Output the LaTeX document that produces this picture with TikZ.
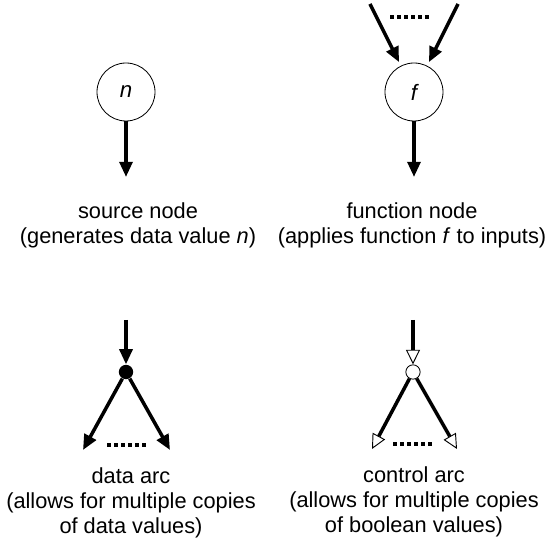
\documentclass[tikz,border=0pt]{standalone}
\usepackage{fontspec}
\setmainfont{Liberation Sans}
\usetikzlibrary{positioning,arrows.meta}

\begin{document}
\begin{tikzpicture}[
  x=0.03cm, y=-0.03cm,
  vtx/.style={draw, circle, line width=0.7pt, minimum size=1.74cm, inner sep=0pt,
              font=\fontsize{19}{21}\selectfont\itshape},
  lbl/.style={align=center, inner sep=0pt, font=\fontsize{18.6}{21.5}\selectfont},
  arr/.style={line width=3pt, -{Triangle[length=13pt, width=11pt]}},
  oarr/.style={line width=3pt, -{Triangle[open, fill=white, length=12.5pt, width=12pt, line width=0.8pt]}},
  dots/.style={line width=3.4pt, dash pattern=on 3.4pt off 2.6pt},
  fork/.style={circle, inner sep=0pt, minimum size=0.43cm, line width=0.7pt}
]
\useasboundingbox (0,0) rectangle (546,544);

% source node
\node[vtx] (src) at (126,92) {n};
\coordinate (srcout) at (126,177);
\draw[arr] (src) -- (srcout);
\node[lbl] (srclbl) at (138,225) {source node\\(generates data value \textit{n})};

% function node
\node[vtx] (fn) at (414,92) {f};
\coordinate (fnin1) at (370,4);
\coordinate (fnin2) at (458,4);
\coordinate (fnout) at (414,177);
\coordinate (fndl) at (390,17);
\coordinate (fndr) at (430,17);
\draw[arr, shorten >=3.4pt] (fnin1) -- (fn);
\draw[arr, shorten >=3.4pt] (fnin2) -- (fn);
\draw[dots] (fndl) -- (fndr);
\draw[arr] (fn) -- (fnout);
\node[lbl] (fnlbl) at (412,225) {function node\\(applies function \textit{f} to inputs)};

% data arc
\coordinate (datain) at (126,320);
\node[fork, fill=black] (dfork) at (126,372) {};
\coordinate (dout1) at (83,450);
\coordinate (dout2) at (170,450);
\coordinate (ddl) at (107,445);
\coordinate (ddr) at (147,445);
\draw[arr] (datain) -- (dfork);
\draw[arr] (dfork) -- (dout1);
\draw[arr] (dfork) -- (dout2);
\draw[dots] (ddl) -- (ddr);
\node[lbl] (dlbl) at (131,503) {data arc\\(allows for multiple copies\\of data values)};

% control arc
\coordinate (ctrlin) at (413,320);
\node[fork, draw, fill=white] (cfork) at (413,372) {};
\coordinate (cout1) at (372,449);
\coordinate (cout2) at (457,449);
\coordinate (cdl) at (393,444);
\coordinate (cdr) at (433,444);
\draw[oarr] (ctrlin) -- (cfork);
\draw[oarr] (cfork) -- (cout1);
\draw[oarr] (cfork) -- (cout2);
\draw[dots] (cdl) -- (cdr);
\node[lbl] (clbl) at (414,502) {control arc\\(allows for multiple copies\\of boolean values)};
\end{tikzpicture}
\end{document}
